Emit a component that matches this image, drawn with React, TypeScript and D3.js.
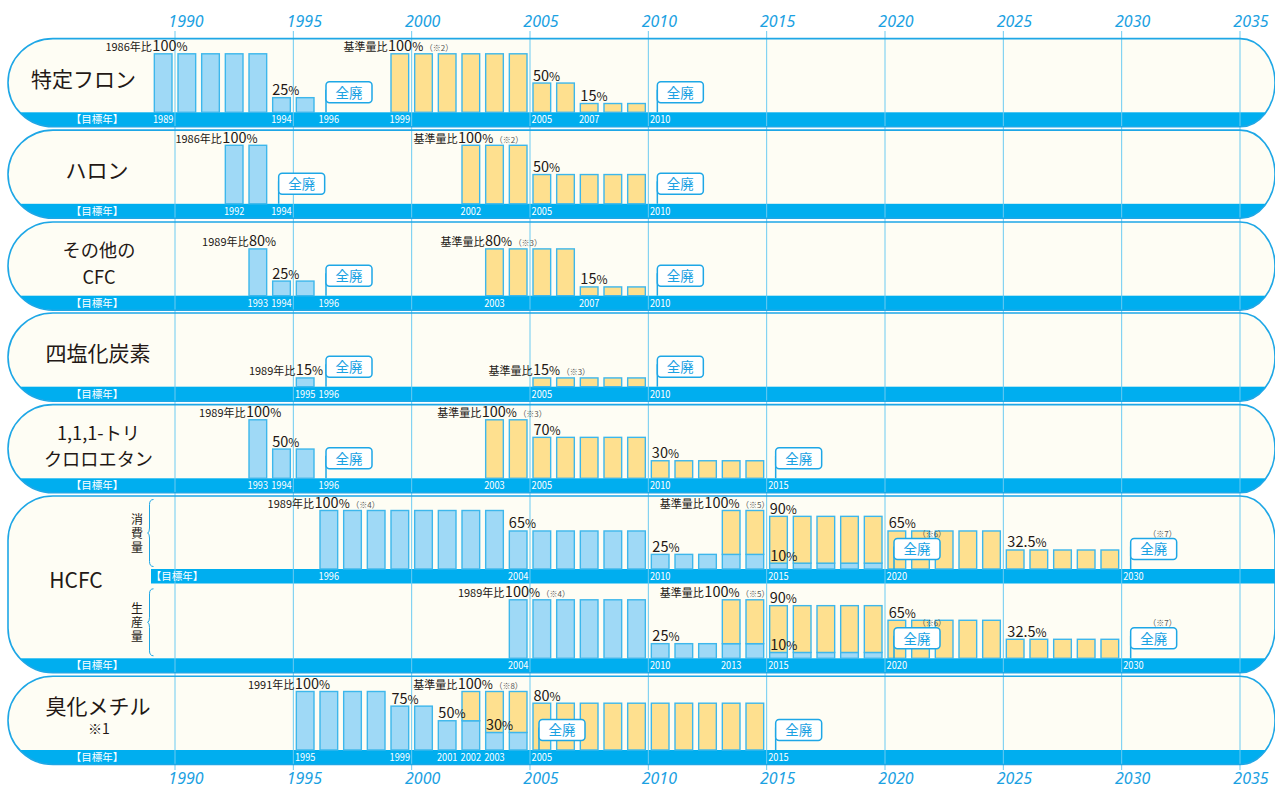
import * as d3 from "d3";

// years shown along top and bottom
const AXIS_YEARS = [1990, 1995, 2000, 2005, 2010, 2015, 2020, 2025, 2030, 2035];

// bars: [year, blue %, total %]  (yellow drawn from blue % up to total %)
const tokuteiBars = [
  [1989, 100, 100], [1990, 100, 100], [1991, 100, 100], [1992, 100, 100], [1993, 100, 100],
  [1994, 25, 25], [1995, 25, 25],
  [1999, 0, 100], [2000, 0, 100], [2001, 0, 100], [2002, 0, 100], [2003, 0, 100], [2004, 0, 100],
  [2005, 0, 50], [2006, 0, 50], [2007, 0, 15], [2008, 0, 15], [2009, 0, 15],
];
const halonBars = [
  [1992, 100, 100], [1993, 100, 100],
  [2002, 0, 100], [2003, 0, 100], [2004, 0, 100],
  [2005, 0, 50], [2006, 0, 50], [2007, 0, 50], [2008, 0, 50], [2009, 0, 50],
];
const otherCfcBars = [
  [1993, 80, 80], [1994, 25, 25], [1995, 25, 25],
  [2003, 0, 80], [2004, 0, 80], [2005, 0, 80], [2006, 0, 80],
  [2007, 0, 15], [2008, 0, 15], [2009, 0, 15],
];
const ctcBars = [
  [1995, 15, 15],
  [2005, 0, 15], [2006, 0, 15], [2007, 0, 15], [2008, 0, 15], [2009, 0, 15],
];
const tcaBars = [
  [1993, 100, 100], [1994, 50, 50], [1995, 50, 50],
  [2003, 0, 100], [2004, 0, 100],
  [2005, 0, 70], [2006, 0, 70], [2007, 0, 70], [2008, 0, 70], [2009, 0, 70],
  [2010, 0, 30], [2011, 0, 30], [2012, 0, 30], [2013, 0, 30], [2014, 0, 30],
];
const hcfcConsBars = [
  [1996, 100, 100], [1997, 100, 100], [1998, 100, 100], [1999, 100, 100],
  [2000, 100, 100], [2001, 100, 100], [2002, 100, 100], [2003, 100, 100],
  [2004, 65, 65], [2005, 65, 65], [2006, 65, 65], [2007, 65, 65], [2008, 65, 65], [2009, 65, 65],
  [2010, 25, 25], [2011, 25, 25], [2012, 25, 25], [2013, 25, 100], [2014, 25, 100],
  [2015, 10, 90], [2016, 10, 90], [2017, 10, 90], [2018, 10, 90], [2019, 10, 90],
  [2020, 0, 65], [2021, 0, 65], [2022, 0, 65], [2023, 0, 65], [2024, 0, 65],
  [2025, 0, 32.5], [2026, 0, 32.5], [2027, 0, 32.5], [2028, 0, 32.5], [2029, 0, 32.5],
];
const hcfcProdBars = [
  [2004, 100, 100], [2005, 100, 100], [2006, 100, 100], [2007, 100, 100], [2008, 100, 100], [2009, 100, 100],
  [2010, 25, 25], [2011, 25, 25], [2012, 25, 25], [2013, 25, 100], [2014, 25, 100],
  [2015, 10, 90], [2016, 10, 90], [2017, 10, 90], [2018, 10, 90], [2019, 10, 90],
  [2020, 0, 65], [2021, 0, 65], [2022, 0, 65], [2023, 0, 65], [2024, 0, 65],
  [2025, 0, 32.5], [2026, 0, 32.5], [2027, 0, 32.5], [2028, 0, 32.5], [2029, 0, 32.5],
];
const mbBars = [
  [1995, 100, 100], [1996, 100, 100], [1997, 100, 100], [1998, 100, 100],
  [1999, 75, 75], [2000, 75, 75], [2001, 50, 50],
  [2002, 50, 100], [2003, 30, 100], [2004, 30, 100],
  [2005, 0, 80], [2006, 0, 80], [2007, 0, 80], [2008, 0, 80], [2009, 0, 80],
  [2010, 0, 80], [2011, 0, 80], [2012, 0, 80], [2013, 0, 80], [2014, 0, 80],
];

// labels: [year, level %, prefix, number, note, nudge px]
const tokuteiLabels = [
  [1989, 100, "1986年比", "100", "", 1], [1994, 25, "", "25", "", 2.5],
  [1999, 100, "基準量比", "100", "（※2）", 0], [2005, 50, "", "50", "", 3], [2007, 15, "", "15", "", 3],
];
const halonLabels = [
  [1992, 100, "1986年比", "100", "", 0], [2002, 100, "基準量比", "100", "（※2）", -1],
  [2005, 50, "", "50", "", 3],
];
const otherCfcLabels = [
  [1993, 80, "1989年比", "80", "", 3], [1994, 25, "", "25", "", 2.5],
  [2003, 80, "基準量比", "80", "（※3）", 2.3], [2007, 15, "", "15", "", 3],
];
const ctcLabels = [
  [1995, 15, "1989年比", "15", "", 2.5], [2005, 15, "基準量比", "15", "（※3）", 3],
];
const tcaLabels = [
  [1993, 100, "1989年比", "100", "", 0], [1994, 50, "", "50", "", 2.5],
  [2003, 100, "基準量比", "100", "（※3）", -1], [2005, 70, "", "70", "", 3.5], [2010, 30, "", "30", "", 3.5],
];
const hcfcConsLabels = [
  [1996, 100, "1989年比", "100", "（※4）", -2.5], [2004, 65, "", "65", "", 2.5],
  [2010, 25, "", "25", "", 4], [2013, 100, "基準量比", "100", "（※5）", -15],
  [2015, 90, "", "90", "", 3], [2015, 10, "", "10", "", 3.5],
  [2020, 65, "", "65", "", 3.7], [2025, 32.5, "", "32.5", "", 4],
];
const hcfcProdLabels = [
  [2004, 100, "1989年比", "100", "（※4）", -1.5],
  [2010, 25, "", "25", "", 4], [2013, 100, "基準量比", "100", "（※5）", -15],
  [2015, 90, "", "90", "", 3], [2015, 10, "", "10", "", 3.5],
  [2020, 65, "", "65", "", 3.7], [2025, 32.5, "", "32.5", "", 4],
];
const mbLabels = [
  [1995, 100, "1991年比", "100", "", 1.5], [1999, 75, "", "75", "", 3.5], [2001, 50, "", "50", "", 3],
  [2002, 100, "基準量比", "100", "（※8）", -1.3], [2003, 30, "", "30", "", 3.3], [2005, 80, "", "80", "", 3.5],
];

// target years printed in the band
const tokuteiTicks = [1989, 1994, 1996, 1999, 2005, 2007, 2010];
const halonTicks = [1992, 1994, 2002, 2005, 2010];
const otherCfcTicks = [1993, 1994, 1996, 2003, 2007, 2010];
const ctcTicks = [1995, 1996, 2005, 2010];
const tcaTicks = [1993, 1994, 1996, 2003, 2005, 2010, 2015];
const hcfcConsTicks = [1996, 2004, 2010, 2015, 2020, 2030];
const hcfcProdTicks = [2004, 2010, 2013, 2015, 2020, 2030];
const mbTicks = [1995, 1999, 2001, 2002, 2003, 2005, 2015];

// phase-out (全廃) years
const tokuteiOut = [1996, 2010];
const halonOut = [1994, 2010];
const otherCfcOut = [1996, 2010];
const ctcOut = [1996, 2010];
const tcaOut = [1996, 2015];
const hcfcOut = [2020, 2030];
const mbOut = [2005, 2015];

const BAND_TOPS = [112.3, 203.8, 295.7, 386.7, 478.3, 569, 658.3, 750];
const BAND_H = 14.5;
const BAR_H = 58.5;

const C = {
  band: "#00aeef",
  line: "#1ea7e6",
  grid: "#6ccbf1",
  fill: "#fefdf4",
  blue: "#9fd9f6",
  yellow: "#fee08f",
  barStroke: "#3db7ec",
  text: "#231815",
  accent: "#1ba1e2",
  note: "#555",
};
const JP = "'Noto Sans CJK JP', 'Noto Sans', sans-serif";

const x = d3.scaleLinear().domain([1990, 2035]).range([175, 1240]);

function capsulePath(top: number, bottom: number) {
  const L = 8, R = 1275, lr = 45, rr = 35;
  const ry = Math.min(44.5, (bottom - top) / 2);
  return `M${L + lr},${top} H${R - rr} A${rr},${ry} 0 0 1 ${R},${top + ry} V${bottom - ry}` +
    ` A${rr},${ry} 0 0 1 ${R - rr},${bottom} H${L + lr} A${lr},${ry} 0 0 1 ${L},${bottom - ry}` +
    ` V${top + ry} A${lr},${ry} 0 0 1 ${L + lr},${top} Z`;
}

function Bars({ bars, band }: { bars: number[][]; band: number }) {
  const y = d3.scaleLinear().domain([0, 100]).range([band, band - BAR_H]);
  return (
    <g>
      {bars.map(([yr, b, t]) => {
        const x0 = x(yr) + 3;
        const w = x(yr + 1) - x(yr) - 6;
        return (
          <g key={yr}>
            {b > 0 && (
              <rect x={x0} y={y(b)} width={w} height={y(0) - y(b)} fill={C.blue} stroke={C.barStroke} strokeWidth={1.4} />
            )}
            {t > b && (
              <rect x={x0} y={y(t)} width={w} height={y(b) - y(t)} fill={C.yellow} stroke={C.barStroke} strokeWidth={1.4} />
            )}
          </g>
        );
      })}
    </g>
  );
}

function Labels({ labels, band }: { labels: any[][]; band: number }) {
  const y = d3.scaleLinear().domain([0, 100]).range([band, band - BAR_H]);
  return (
    <g fontFamily={JP} fill={C.text}>
      {labels.map(([yr, lv, pre, num, note, dx], i) => {
        const xs = x(yr) + dx;
        const yb = y(lv) - 2.5;
        return (
          <g key={i}>
            {pre && (
              <text x={xs - 0.5} y={yb} fontSize={11} textAnchor="end">{pre}</text>
            )}
            <text x={xs} y={yb}>
              <tspan fontSize={14.5}>{num}</tspan>
              <tspan fontSize={12}>%</tspan>
              {note && <tspan fontSize={8} fill={C.note} dx={1.5}>{note}</tspan>}
            </text>
          </g>
        );
      })}
    </g>
  );
}

function Ticks({ ticks, band, labelX }: { ticks: number[]; band: number; labelX: number }) {
  return (
    <g fontFamily={JP} fill="#fff" fontSize={10.5} textAnchor="middle">
      <text x={labelX} y={band + 10.8}>【目標年】</text>
      {ticks.map((yr) => (
        <text key={yr} x={(x(yr) + x(yr + 1)) / 2} y={band + 10.8} textLength={20.5} lengthAdjust="spacingAndGlyphs">{yr}</text>
      ))}
    </g>
  );
}

function PhaseOut({ years, band }: { years: number[]; band: number }) {
  return (
    <g>
      {years.map((yr) => {
        const l = x(yr) + 9;
        const t = band - 30.5;
        return (
          <g key={yr}>
            <line x1={l} x2={l} y1={t + 8} y2={band} stroke={C.line} strokeWidth={1.5} />
            <rect x={l} y={t} width={46} height={21} rx={3.5} fill="#fff" stroke={C.line} strokeWidth={1.5} />
            <text x={l + 23} y={t + 15.7} textAnchor="middle" fontFamily={JP} fontSize={13.5} fill={C.accent}>全廃</text>
          </g>
        );
      })}
    </g>
  );
}

function Brace({ top, bottom, tipX }: { top: number; bottom: number; tipX: number }) {
  const m = (top + bottom) / 2;
  const bx = tipX + 2;
  const ex = tipX + 6;
  const d = `M${ex},${top} Q${bx},${top} ${bx},${top + 5} L${bx},${m - 5} Q${bx},${m} ${tipX},${m}` +
    ` Q${bx},${m} ${bx},${m + 5} L${bx},${bottom - 5} Q${bx},${bottom} ${ex},${bottom}`;
  return <path d={d} fill="none" stroke={C.line} strokeWidth={1} />;
}

const simpleRows = [
  { band: 0, title: ["特定フロン"], tx: 83.5, bars: tokuteiBars, labels: tokuteiLabels, ticks: tokuteiTicks, out: tokuteiOut },
  { band: 1, title: ["ハロン"], tx: 97, bars: halonBars, labels: halonLabels, ticks: halonTicks, out: halonOut },
  { band: 2, title: ["その他の", "CFC"], tx: 99, bars: otherCfcBars, labels: otherCfcLabels, ticks: otherCfcTicks, out: otherCfcOut },
  { band: 3, title: ["四塩化炭素"], tx: 98, bars: ctcBars, labels: ctcLabels, ticks: ctcTicks, out: ctcOut },
  { band: 4, title: ["1,1,1-トリ", "クロロエタン"], tx: 98.5, bars: tcaBars, labels: tcaLabels, ticks: tcaTicks, out: tcaOut },
  { band: 7, title: ["臭化メチル"], tx: 98, bars: mbBars, labels: mbLabels, ticks: mbTicks, out: mbOut },
];

export default function App() {
  const hcfcTop = BAND_TOPS[5] - 73;
  const hcfcBottom = BAND_TOPS[6] + BAND_H;
  const capsules = [
    ...simpleRows.map((r) => ({ id: `c${r.band}`, top: BAND_TOPS[r.band] - 73.7, bottom: BAND_TOPS[r.band] + BAND_H, band: BAND_TOPS[r.band] })),
    { id: "chcfc", top: hcfcTop, bottom: hcfcBottom, band: BAND_TOPS[6] },
  ];
  const consBand = BAND_TOPS[5];
  const prodBand = BAND_TOPS[6];

  return (
    <svg width={1275} height={788} style={{ position: "absolute", left: 0, top: 0, background: "#fff" }}>
      <defs>
        {capsules.map((c) => (
          <clipPath id={c.id} key={c.id}>
            <path d={capsulePath(c.top, c.bottom)} />
          </clipPath>
        ))}
      </defs>

      {/* capsule backgrounds and bands */}
      {capsules.map((c) => (
        <g key={c.id}>
          <path d={capsulePath(c.top, c.bottom)} fill={C.fill} />
          <rect x={0} y={c.band} width={1280} height={c.bottom - c.band + 2} fill={C.band} clipPath={`url(#${c.id})`} />
        </g>
      ))}
      <rect x={151} y={consBand} width={1124} height={BAND_H} fill={C.band} />

      {/* grid */}
      {AXIS_YEARS.map((yr) => (
        <line key={yr} x1={x(yr)} x2={x(yr)} y1={31} y2={770} stroke={C.grid} strokeWidth={1} />
      ))}

      {capsules.map((c) => (
        <path key={c.id} d={capsulePath(c.top, c.bottom)} fill="none" stroke={C.line} strokeWidth={1.6} />
      ))}

      {/* axis labels */}
      <g fontFamily="'Noto Sans', sans-serif" fontStyle="italic" fontSize={16} fill={C.accent} textAnchor="middle">
        {AXIS_YEARS.map((yr) => (
          <g key={yr}>
            <text x={x(yr) + 11} y={27}>{yr}</text>
            <text x={x(yr) + 11} y={784}>{yr}</text>
          </g>
        ))}
      </g>

      {/* simple rows */}
      {simpleRows.map((r) => {
        const band = BAND_TOPS[r.band];
        const top = band - 73.7;
        return (
          <g key={r.band}>
            <Bars bars={r.bars} band={band} />
            <Labels labels={r.labels} band={band} />
            <Ticks ticks={r.ticks} band={band} labelX={97} />
            <PhaseOut years={r.out} band={band} />
            <g fontFamily={JP} fontSize={21} fill={C.text} textAnchor="middle">
              {r.title.length === 1 ? (
                <text x={r.tx} y={top + (r.band === 7 ? 37.5 : 48)}>{r.title[0]}</text>
              ) : (
                <text x={r.tx} y={top + 35} fontSize={18.2}>
                  <tspan x={r.tx}>{r.title[0]}</tspan>
                  <tspan x={r.tx} dy={26.5}>{r.title[1]}</tspan>
                </text>
              )}
              {r.band === 7 && <text x={99} y={top + 57.5} fontSize={14}>※1</text>}
            </g>
          </g>
        );
      })}

      {/* HCFC */}
      <Bars bars={hcfcConsBars} band={consBand} />
      <Bars bars={hcfcProdBars} band={prodBand} />
      <Labels labels={hcfcConsLabels} band={consBand} />
      <Labels labels={hcfcProdLabels} band={prodBand} />
      <Ticks ticks={hcfcConsTicks} band={consBand} labelX={177} />
      <Ticks ticks={hcfcProdTicks} band={prodBand} labelX={97} />
      <PhaseOut years={hcfcOut} band={consBand} />
      <PhaseOut years={hcfcOut} band={prodBand} />
      {[consBand, prodBand].map((b) => (
        <g key={b} fontFamily={JP} fill={C.note} fontSize={8}>
          <text x={x(2021) + 9} y={b - 32}>（※6）</text>
          <text x={x(2030) + 55} y={b - 32} textAnchor="end">（※7）</text>
        </g>
      ))}
      <text x={76} y={588} fontFamily={JP} fontSize={21} fill={C.text} textAnchor="middle">HCFC</text>
      {[{ b: consBand, t: "消費量" }, { b: prodBand, t: "生産量" }].map(({ b, t }) => (
        <g key={b}>
          <text x={137} y={b - 56} fontFamily={JP} fontSize={12} fill={C.text}
            style={{ writingMode: "vertical-rl" }} letterSpacing={2}>{t}</text>
          <Brace top={b - 69.5} bottom={b - 2.5} tipX={147.5} />
        </g>
      ))}
    </svg>
  );
}
